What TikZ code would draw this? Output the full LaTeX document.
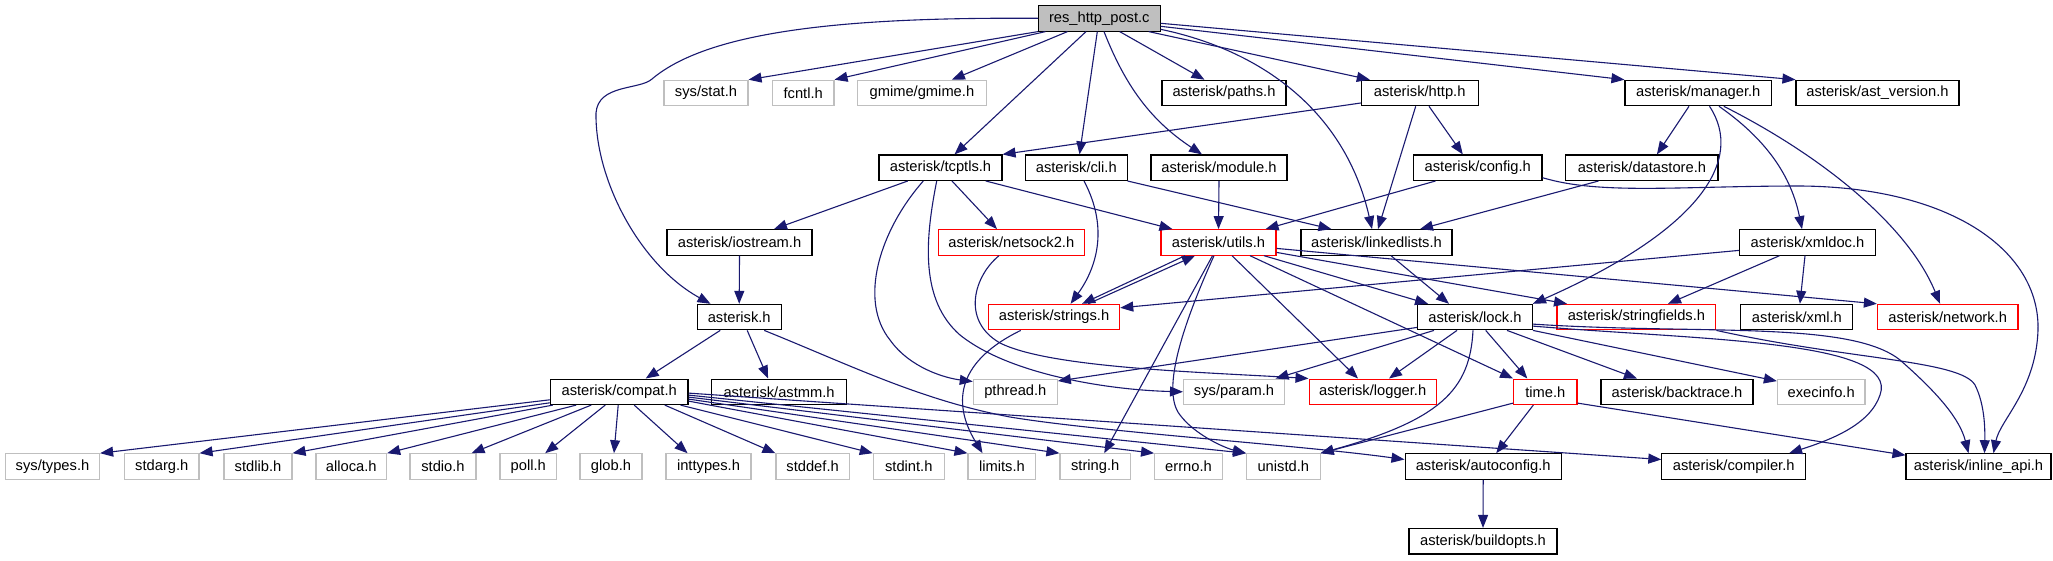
\documentclass[tikz,border=0pt]{standalone}
\usepackage{fontspec}
\setmainfont{Liberation Sans}
\usetikzlibrary{arrows.meta}
\definecolor{edgeblue}{HTML}{191970}
\definecolor{sysgray}{HTML}{BFBFBF}
\definecolor{resfill}{HTML}{BFBFBF}
\tikzset{
  box/.style={rectangle, minimum height=25.5pt, inner sep=0pt, fill=white, line width=1.1pt,
    font=\fontsize{14.7pt}{17pt}\selectfont},
  doc/.style={box, draw=black},
  sys/.style={box, draw=sysgray},
  trunc/.style={box, draw=red},
  edge/.style={draw=edgeblue, line width=1.1pt, -{Triangle[length=13pt,width=10pt]}},
}
\begin{document}
\begin{tikzpicture}[x=1pt,y=-1pt]
\fill[white] (0,0) rectangle (2053,560);
\useasboundingbox (0,0) rectangle (2053,560);
% row 0
\node[doc, fill=resfill, minimum width=121.5pt] (res) at (1099.3,18.3) {res\_http\_post.c};
% row 1
\node[sys, minimum width=84pt] (sysstat) at (706,93) {sys/stat.h};
\node[sys, minimum width=61.6pt] (fcntl) at (803.2,93) {fcntl.h};
\node[sys, minimum width=128.3pt] (gmime) at (921.9,93) {gmime/gmime.h};
\node[doc, minimum width=124pt] (paths) at (1224,93) {asterisk/paths.h};
\node[doc, minimum width=116.7pt] (http) at (1419.7,93) {asterisk/http.h};
\node[doc, minimum width=146.6pt] (manager) at (1698.3,93) {asterisk/manager.h};
\node[doc, minimum width=163pt] (astversion) at (1877.5,93) {asterisk/ast\_version.h};
% row 2
\node[doc, minimum width=123pt] (tcptls) at (940.5,167.7) {asterisk/tcptls.h};
\node[doc, minimum width=101.5pt] (cli) at (1076.3,167.7) {asterisk/cli.h};
\node[doc, minimum width=136pt] (module) at (1219,167.7) {asterisk/module.h};
\node[doc, minimum width=128.4pt] (config) at (1477.8,167.7) {asterisk/config.h};
\node[doc, minimum width=152.2pt] (datastore) at (1641.9,167.7) {asterisk/datastore.h};
% row 3
\node[doc, minimum width=145pt] (iostream) at (739.5,242.4) {asterisk/iostream.h};
\node[trunc, minimum width=146.5pt] (netsock) at (1011.3,242.4) {asterisk/netsock2.h};
\node[trunc, minimum width=115pt] (utils) at (1218.5,242.4) {asterisk/utils.h};
\node[doc, minimum width=151pt] (linkedlists) at (1376.5,242.4) {asterisk/linkedlists.h};
\node[doc, minimum width=136pt] (xmldoc) at (1807.5,242.4) {asterisk/xmldoc.h};
% row 4
\node[doc, minimum width=84.3pt] (asteriskh) at (739.2,317.1) {asterisk.h};
\node[trunc, minimum width=131.2pt] (strings) at (1054.1,317.1) {asterisk/strings.h};
\node[doc, minimum width=114.7pt] (lock) at (1475,317.1) {asterisk/lock.h};
\node[trunc, minimum width=158.8pt] (stringfields) at (1636.4,317.1) {asterisk/stringfields.h};
\node[doc, minimum width=112pt] (xml) at (1796.9,317.1) {asterisk/xml.h};
\node[trunc, minimum width=140.6pt] (network) at (1947.7,317.1) {asterisk/network.h};
% row 5
\node[doc, minimum width=137.6pt] (compat) at (619.2,391.8) {asterisk/compat.h};
\node[doc, minimum width=134.8pt] (astmm) at (779.1,391.8) {asterisk/astmm.h};
\node[sys, minimum width=84pt] (pthread) at (1015.3,391.8) {pthread.h};
\node[sys, minimum width=101pt] (sysparam) at (1234,391.8) {sys/param.h};
\node[trunc, minimum width=127.3pt] (logger) at (1372.7,391.8) {asterisk/logger.h};
\node[trunc, minimum width=63.4pt] (time) at (1545.3,391.8) {time.h};
\node[doc, minimum width=152pt] (backtrace) at (1677,391.8) {asterisk/backtrace.h};
\node[sys, minimum width=87.6pt] (execinfo) at (1821.2,391.8) {execinfo.h};
% row 6
\node[sys, minimum width=94.2pt] (systypes) at (52.5,466.5) {sys/types.h};
\node[sys, minimum width=74.4pt] (stdarg) at (161.8,466.5) {stdarg.h};
\node[sys, minimum width=68pt] (stdlib) at (258,466.5) {stdlib.h};
\node[sys, minimum width=70.6pt] (alloca) at (351.3,466.5) {alloca.h};
\node[sys, minimum width=66pt] (stdio) at (443,466.5) {stdio.h};
\node[sys, minimum width=56.7pt] (poll) at (528.3,466.5) {poll.h};
\node[sys, minimum width=62pt] (glob) at (611,466.5) {glob.h};
\node[sys, minimum width=85pt] (inttypes) at (708.5,466.5) {inttypes.h};
\node[sys, minimum width=73.2pt] (stddef) at (812.6,466.5) {stddef.h};
\node[sys, minimum width=71pt] (stdint) at (908.8,466.5) {stdint.h};
\node[sys, minimum width=67.8pt] (limits) at (1001.9,466.5) {limits.h};
\node[sys, minimum width=70.4pt] (stringh) at (1095.2,466.5) {string.h};
\node[sys, minimum width=67.8pt] (errno) at (1188.5,466.5) {errno.h};
\node[sys, minimum width=73.5pt] (unistd) at (1283.3,466.5) {unistd.h};
\node[doc, minimum width=156.3pt] (autoconfig) at (1483.2,466.5) {asterisk/autoconfig.h};
\node[doc, minimum width=143.7pt] (compiler) at (1733.7,466.5) {asterisk/compiler.h};
\node[doc, minimum width=145pt] (inlineapi) at (1978.5,466.5) {asterisk/inline\_api.h};
% row 7
\node[doc, minimum width=148pt] (buildopts) at (1483,541.2) {asterisk/buildopts.h};

% ---- edges from res_http_post.c
\draw[edge] (res.west) .. controls (850,17) and (710,30) .. (652,79) .. controls (640,90) and (598,84) .. (596,113) .. controls (595,180) and (640,265) .. ([xshift=14pt]asteriskh.north west);
\draw[edge] (res.south west) -- (sysstat.north east);
\draw[edge] ([xshift=7.5pt]res.south west) -- (fcntl.north east);
\draw[edge] ([xshift=29.5pt]res.south west) -- ([xshift=30pt]gmime.north);
\draw[edge] ([xshift=20.4pt]res.south) -- ([xshift=-19.5pt]paths.north);
\draw[edge] ([xshift=49.4pt]res.south) -- ([xshift=9pt]http.north west);
\draw[edge] ([yshift=-8pt]res.east) -- (manager.north west);
\draw[edge] ([yshift=-5pt]res.east) -- (astversion.north west);
\draw[edge] ([xshift=-13.3pt]res.south) -- ([xshift=14pt]tcptls.north);
\draw[edge] ([xshift=-2pt]res.south) -- ([xshift=3.2pt]cli.north);
\draw[edge] ([xshift=4.7pt]res.south) .. controls (1125,85) and (1150,120) .. ([xshift=-17pt]module.north);
\draw[edge] ([yshift=-11pt]res.east) .. controls (1260,50) and (1345,110) .. ([xshift=-4.5pt]linkedlists.north);
% ---- http
\draw[edge] ([yshift=-10pt]http.west) -- (tcptls.north east);
\draw[edge] ([xshift=9.3pt]http.south) -- ([xshift=-15pt]config.north);
\draw[edge] ([xshift=-4pt]http.south) -- ([xshift=1.5pt]linkedlists.north);
% ---- manager
\draw[edge] ([xshift=-9.3pt]manager.south) -- ([xshift=15pt]datastore.north);
\draw[edge] ([xshift=11.2pt]manager.south) .. controls (1745,160) and (1700,230) .. (lock.north east);
\draw[edge] ([xshift=20.7pt]manager.south) .. controls (1760,135) and (1790,170) .. ([xshift=-5.5pt]xmldoc.north);
\draw[edge] ([xshift=25.5pt]manager.south) .. controls (1830,160) and (1910,230) .. ([xshift=-7.7pt]network.north);
% ---- config
\draw[edge] ([xshift=22.4pt]config.south west) -- ([xshift=-11pt]utils.north east);
\draw[edge] ([yshift=-10pt]config.east) .. controls (1600,195) and (1680,186) .. (1800,186) .. controls (1950,187) and (2040,250) .. (2038,330) .. controls (2036,390) and (2000,420) .. ([xshift=15pt]inlineapi.north);
% ---- datastore
\draw[edge] ([xshift=33.2pt]datastore.south west) -- ([xshift=43.5pt]linkedlists.north);
% ---- tcptls
\draw[edge] ([xshift=-32.8pt]tcptls.south) -- ([xshift=34.5pt]iostream.north);
\draw[edge] ([xshift=11.5pt]tcptls.south) -- ([xshift=-14.3pt]netsock.north);
\draw[edge] ([xshift=45.3pt]tcptls.south) -- ([xshift=12pt]utils.north west);
\draw[edge] ([xshift=-17.2pt]tcptls.south) .. controls (880,230) and (858,300) .. (890,340) .. controls (910,368) and (945,378) .. ([yshift=-3pt]pthread.north west);
\draw[edge] ([xshift=-3.8pt]tcptls.south) .. controls (925,240) and (920,300) .. (960,335) .. controls (1010,375) and (1110,390) .. (sysparam.west);
% ---- cli
\draw[edge] (cli.south east) -- ([xshift=31pt]linkedlists.north west);
\draw[edge] ([xshift=7.7pt]cli.south) .. controls (1110,230) and (1095,270) .. ([xshift=16.5pt]strings.north);
% ---- module, iostream
\draw[edge] (module.south) -- (utils.north);
\draw[edge] (iostream.south) -- (asteriskh.north);
% ---- netsock2
\draw[edge] ([xshift=-12.3pt]netsock.south) .. controls (975,275) and (960,320) .. (1000,343) .. controls (1050,368) and (1200,372) .. (logger.north west);
% ---- utils
\draw[edge] ([xshift=-33.5pt]utils.south) -- ([xshift=28pt]strings.north);
\draw[edge] ([xshift=34pt]strings.north) -- ([xshift=-23.5pt]utils.south);
\draw[edge] ([xshift=-6pt]utils.south) -- ([xshift=9pt]stringh.north);
\draw[edge] ([xshift=-4.5pt]utils.south) .. controls (1185,320) and (1160,390) .. (1180,415) .. controls (1195,435) and (1225,448) .. (unistd.north west);
\draw[edge] ([xshift=13.5pt]utils.south) -- ([xshift=-14.7pt]logger.north);
\draw[edge] ([xshift=31.5pt]utils.south) -- (time.north west);
\draw[edge] ([xshift=45.5pt]utils.south) -- ([xshift=11pt]lock.north west);
\draw[edge] ([yshift=-10pt]utils.east) -- ([xshift=10.6pt]stringfields.north west);
\draw[edge] ([yshift=-6pt]utils.east) -- (network.north west);
% ---- strings
\draw[edge] ([xshift=-33.4pt]strings.south) .. controls (960,360) and (950,400) .. ([xshift=-19.4pt]limits.north);
% ---- xmldoc
\draw[edge] ([yshift=-8pt]xmldoc.west) -- ([yshift=-4pt]strings.north east);
\draw[edge] ([xshift=-2.5pt]xmldoc.south) -- ([xshift=3pt]xml.north);
\draw[edge] ([xshift=-28pt]xmldoc.south) -- ([xshift=31.6pt]stringfields.north);
% ---- linkedlists
\draw[edge] ([xshift=14.5pt]linkedlists.south) -- ([xshift=-26pt]lock.north);
% ---- lock
\draw[edge] ([yshift=3pt]lock.south west) -- ([yshift=-2.5pt]pthread.north east);
\draw[edge] ([xshift=-41pt]lock.south) -- ([xshift=-9.5pt]sysparam.north east);
\draw[edge] ([xshift=-18pt]lock.south) -- ([xshift=16.3pt]logger.north);
\draw[edge] ([xshift=-2pt]lock.south) .. controls (1470,390) and (1440,420) .. (unistd.north east);
\draw[edge] ([xshift=10.7pt]lock.south) -- ([xshift=-18pt]time.north);
\draw[edge] ([xshift=32pt]lock.south) -- ([xshift=-40pt]backtrace.north);
\draw[edge] (lock.south east) -- ([yshift=-2.6pt]execinfo.north west);
\draw[edge] ([yshift=-9pt]lock.east) .. controls (1700,340) and (1900,340) .. (1880,395) .. controls (1870,425) and (1830,440) .. ([xshift=-17pt]compiler.north east);
\draw[edge] ([yshift=-7pt]lock.east) .. controls (1700,335) and (1850,320) .. (1900,360) .. controls (1940,395) and (1960,420) .. ([xshift=-10pt]inlineapi.north);
% ---- stringfields
\draw[edge] (stringfields.south east) .. controls (1850,360) and (1960,360) .. (1975,385) .. controls (1985,405) and (1985,430) .. ([xshift=6pt]inlineapi.north);
% ---- time
\draw[edge] ([yshift=2pt]time.south west) -- (unistd.north east);
\draw[edge] ([xshift=-12pt]time.south) -- ([xshift=13pt]autoconfig.north);
\draw[edge] ([yshift=2pt]time.south east) -- ([yshift=-2pt]inlineapi.north west);
% ---- asterisk.h
\draw[edge] ([xshift=-19pt]asteriskh.south) -- ([xshift=26.5pt]compat.north);
\draw[edge] ([xshift=8pt]asteriskh.south) -- ([xshift=-11pt]astmm.north);
\draw[edge] ([xshift=25pt]asteriskh.south) .. controls (850,365) and (920,400) .. (1010,417) .. controls (1100,432) and (1300,445) .. ([yshift=7pt]autoconfig.west);
% ---- compat
\draw[edge] ([yshift=-8pt]compat.west) -- (systypes.north east);
\draw[edge] ([yshift=-11pt]compat.west) -- (stdarg.north east);
\draw[edge] ([xshift=3pt]compat.south west) -- (stdlib.north east);
\draw[edge] ([xshift=-43pt]compat.south) -- (alloca.north east);
\draw[edge] ([xshift=-28pt]compat.south) -- ([xshift=-5pt]stdio.north east);
\draw[edge] ([xshift=-14pt]compat.south) -- ([xshift=-12pt]poll.north east);
\draw[edge] ([xshift=-1pt]compat.south) -- ([xshift=3pt]glob.north);
\draw[edge] ([xshift=15pt]compat.south) -- ([xshift=-21pt]inttypes.north);
\draw[edge] ([xshift=45.6pt]compat.south) -- (stddef.north west);
\draw[edge] ([xshift=-8pt]compat.south east) -- (stdint.north west);
\draw[edge] ([yshift=4pt]compat.south east) -- (limits.north west);
\draw[edge] ([yshift=6pt]compat.south east) -- (stringh.north west);
\draw[edge] ([yshift=8pt]compat.south east) -- (errno.north west);
\draw[edge] ([yshift=10pt]compat.south east) -- (unistd.north west);
\draw[edge] ([yshift=12pt]compat.south east) -- ([yshift=7pt]compiler.west);
% ---- autoconfig
\draw[edge] (autoconfig.south) -- (buildopts.north);
\end{tikzpicture}
\end{document}
